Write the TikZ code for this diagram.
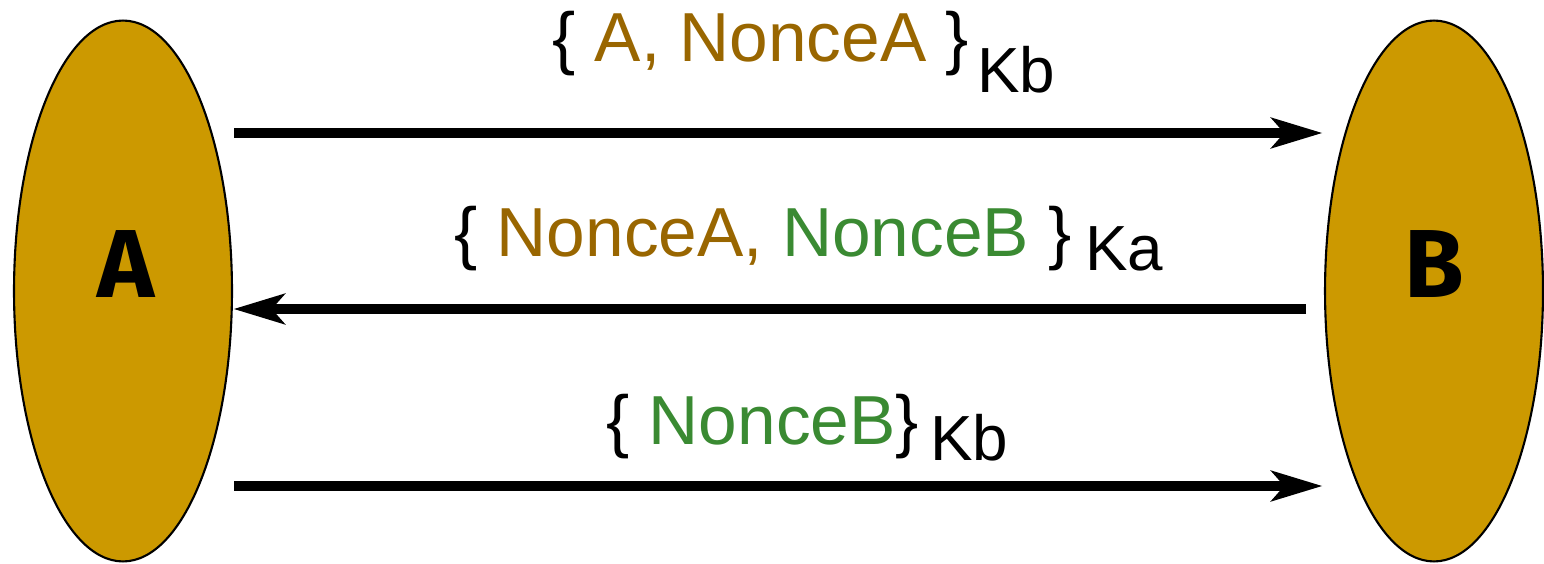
\documentclass[tikz,border=0pt]{standalone}
\usepackage{fontspec}
\setmainfont{Liberation Sans}
\newfontfamily\partyfont{Fira Sans}
\usetikzlibrary{shapes.geometric,arrows.meta}
\definecolor{partyfill}{HTML}{CC9900}
\definecolor{nonceA}{HTML}{996600}
\definecolor{nonceB}{HTML}{3A8A32}

\begin{document}
\begin{tikzpicture}[x=0.02cm,y=-0.02cm,
  party/.style={ellipse, draw=black, line width=1.2pt, fill=partyfill,
    minimum width=4.36cm, minimum height=10.82cm, inner sep=0pt},
  partyname/.style={inner sep=0pt, font=\partyfont\bfseries\fontsize{55}{55}\selectfont},
  msg/.style={line width=5.6pt,
    -{Stealth[length=29.5pt,width=18pt,inset=8pt,line width=0pt]}},
  body/.style={anchor=base west, inner sep=0pt, font=\fontsize{39.5}{41}\selectfont},
  key/.style={anchor=base west, inner sep=0pt, font=\fontsize{36.3}{37}\selectfont}]
  \useasboundingbox (0,0) rectangle (1544,564);

  % the two parties
  \node[party] (A) at (123,291) {};
  \node[party] (B) at (1434,291) {};
  \node[partyname] (nA) at (126,264) {A};
  \node[partyname] (nB) at (1434,264) {B};

  % message arrows
  \coordinate (s1) at (234,133);  \coordinate (e1) at (1322,133);
  \coordinate (s2) at (1306,309); \coordinate (e2) at (234,309);
  \coordinate (s3) at (234,486);  \coordinate (e3) at (1322,486);
  \draw[msg] (s1) -- (e1);
  \draw[msg] (s2) -- (e2);
  \draw[msg] (s3) -- (e3);

  % message contents
  \node[body] (m1) at (552,62) {\{ \textcolor{nonceA}{A, NonceA} \}};
  \node[key]  (k1) at (977,93) {Kb};
  \node[body] (m2) at (454,256) {\{ \textcolor{nonceA}{NonceA,} \textcolor{nonceB}{NonceB} \}};
  \node[key]  (k2) at (1085,270) {Ka};
  \node[body] (m3) at (606,444) {\{ \textcolor{nonceB}{NonceB}\}};
  \node[key]  (k3) at (930,460) {Kb};
\end{tikzpicture}
\end{document}
